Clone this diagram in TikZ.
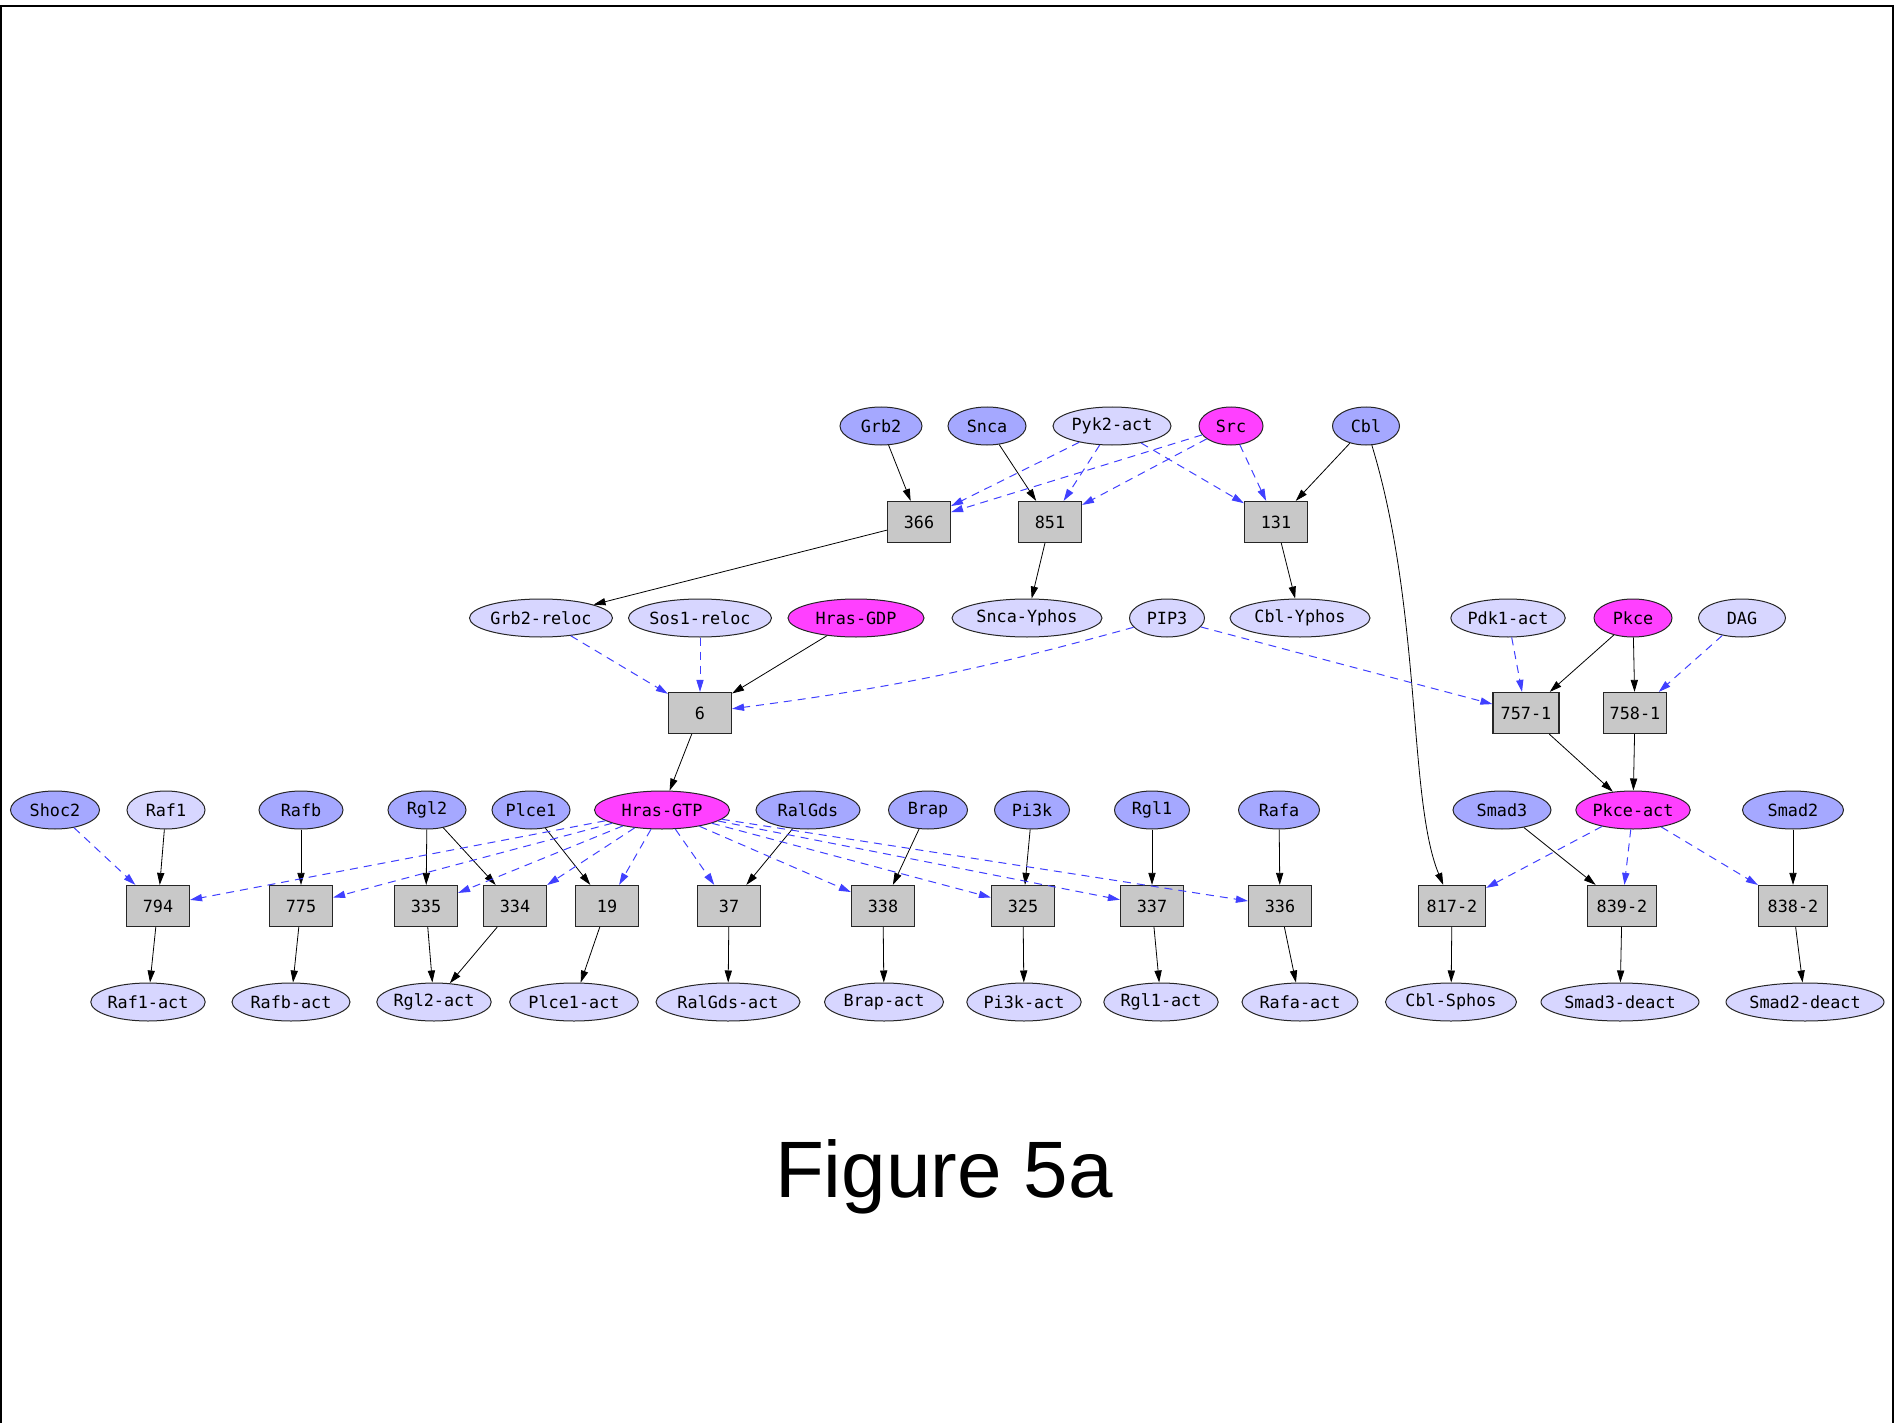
\documentclass[tikz,border=0pt]{standalone}
\usepackage{fontspec}
\setmainfont{Liberation Sans}
\newfontfamily\monof{DejaVu Sans Mono}
\usetikzlibrary{arrows.meta,shapes.geometric}
\definecolor{dkc}{RGB}{165,168,255}
\definecolor{ltc}{RGB}{215,214,255}
\definecolor{mgc}{RGB}{255,64,255}
\definecolor{bxc}{RGB}{200,200,200}
\definecolor{edb}{RGB}{64,64,255}
\begin{document}
\begin{tikzpicture}[x=0.5pt,y=-0.5pt,
 every node/.style={font=\monof\fontsize{8.4}{9}\selectfont, inner sep=0pt},
 ell/.style={ellipse, draw=black!85, line width=0.5pt, minimum height=19pt, minimum width=#1*0.5pt},
 dk/.style={ell=#1, fill=dkc},
 lt/.style={ell=#1, fill=ltc},
 mg/.style={ell=#1, fill=mgc},
 bx/.style={rectangle, draw=black!85, line width=0.6pt, fill=bxc, minimum height=20.5pt, minimum width=#1*0.5pt},
 bx/.default=63,
 ar/.style={-{Triangle[length=6pt,width=3.6pt]}, line width=0.4pt, black},
 da/.style={-{Triangle[length=6pt,width=3.6pt]}, line width=0.5pt, edb, dash pattern=on 4pt off 3pt},
 frame/.style={line width=1pt, black},
 title/.style={font=\rmfamily\fontsize{40}{48}\selectfont}
]
\useasboundingbox (0,0) rectangle (1902,1423);
\draw[frame] (1,1423) -- (1,6) -- (1893,6) -- (1893,1423);

% row 1
\node[dk=82]  (grb2) at (881,426) {Grb2};
\node[dk=78]  (snca) at (987,426) {Snca};
\node[lt=118] (pyk2) at (1112,426) {Pyk2-act};
\node[mg=64]  (src)  at (1231,426) {Src};
\node[dk=67]  (cbl)  at (1366,426) {Cbl};
% row 2
\node[bx] (b366) at (919,522) {366};
\node[bx] (b851) at (1050,522) {851};
\node[bx] (b131) at (1276,522) {131};
% row 3
\node[lt=135] (grb2r) at (541,618) {Grb2-reloc};
\node[lt=126] (sos1r) at (700,618) {Sos1-reloc};
\node[mg=136] (hgdp)  at (856,618) {Hras-GDP};
\node[lt=150] (sncay) at (1027,618) {Snca-Yphos};
\node[lt=75]  (pip3)  at (1167,618) {PIP3};
\node[lt=140] (cbly)  at (1300,618) {Cbl-Yphos};
\node[lt=108] (pdk1)  at (1508,618) {Pdk1-act};
\node[mg=78]  (pkce)  at (1633,618) {Pkce};
\node[lt=87]  (dag)   at (1742,618) {DAG};
% row 4
\node[bx]    (b6)   at (700,713) {6};
\node[bx=66] (b757) at (1526,713) {757-1};
\node[bx]    (b758) at (1635,713) {758-1};
% row 5
\node[dk=89]  (shoc2)   at (55,810) {Shoc2};
\node[lt=78]  (raf1)    at (166,810) {Raf1};
\node[dk=84]  (rafb)    at (301,810) {Rafb};
\node[dk=78]  (rgl2)    at (427,810) {Rgl2};
\node[dk=78]  (plce1)   at (531,810) {Plce1};
\node[mg=135] (hgtp)    at (662,810) {Hras-GTP};
\node[dk=104] (ralgds)  at (808,810) {RalGds};
\node[dk=79]  (brap)    at (928,810) {Brap};
\node[dk=75]  (pi3k)    at (1032,810) {Pi3k};
\node[dk=75]  (rgl1)    at (1152,810) {Rgl1};
\node[dk=81]  (rafa)    at (1279,810) {Rafa};
\node[dk=98]  (smad3)   at (1502,810) {Smad3};
\node[mg=110] (pkceact) at (1633,810) {Pkce-act};
\node[dk=101] (smad2)   at (1793,810) {Smad2};
% row 6
\node[bx] (b794) at (158,906) {794};
\node[bx] (b775) at (301,906) {775};
\node[bx] (b335) at (426,906) {335};
\node[bx] (b334) at (515,906) {334};
\node[bx] (b19)  at (607,906) {19};
\node[bx] (b37)  at (729,906) {37};
\node[bx] (b338) at (883,906) {338};
\node[bx] (b325) at (1023,906) {325};
\node[bx] (b337) at (1152,906) {337};
\node[bx] (b336) at (1280,906) {336};
\node[bx=67] (b817) at (1452,906) {817-2};
\node[bx=69] (b839) at (1622,906) {839-2};
\node[bx=69] (b838) at (1793,906) {838-2};
% row 7
\node[lt=112] (raf1a)   at (148,1002) {Raf1-act};
\node[lt=118] (rafba)   at (291,1002) {Rafb-act};
\node[lt=113] (rgl2a)   at (434,1002) {Rgl2-act};
\node[lt=113] (plce1a)  at (574,1002) {Plce1-act};
\node[lt=144] (ralgdsa) at (728,1002) {RalGds-act};
\node[lt=119] (brapa)   at (884,1002) {Brap-act};
\node[lt=110] (pi3ka)   at (1024,1002) {Pi3k-act};
\node[lt=109] (rgl1a)   at (1161,1002) {Rgl1-act};
\node[lt=116] (rafaa)   at (1300,1002) {Rafa-act};
\node[lt=131] (cblsp)   at (1451,1002) {Cbl-Sphos};
\node[lt=158] (smad3d)  at (1620,1002) {Smad3-deact};
\node[lt=158] (smad2d)  at (1805,1002) {Smad2-deact};

\node[title] (fig) at (944,1177) {Figure 5a};

% black edges
\draw[ar] (grb2) -- (b366);
\draw[ar] (snca) -- (b851);
\draw[ar] (cbl) -- (b131);
\draw[ar] (cbl) .. controls (1422,610) and (1408,800) .. (b817);
\draw[ar] (b366) -- (grb2r);
\draw[ar] (b851) -- (sncay);
\draw[ar] (b131) -- (cbly);
\draw[ar] (hgdp) -- (b6);
\draw[ar] (b6) -- (hgtp);
\draw[ar] (pkce) -- (b757);
\draw[ar] (pkce) -- (b758);
\draw[ar] (b757) -- (pkceact);
\draw[ar] (b758) -- (pkceact);
\draw[ar] (raf1) -- (b794);
\draw[ar] (rafb) -- (b775);
\draw[ar] (rgl2) -- (b335);
\draw[ar] (rgl2) -- (b334);
\draw[ar] (plce1) -- (b19);
\draw[ar] (ralgds) -- (b37);
\draw[ar] (brap) -- (b338);
\draw[ar] (pi3k) -- (b325);
\draw[ar] (rgl1) -- (b337);
\draw[ar] (rafa) -- (b336);
\draw[ar] (smad3) -- (b839);
\draw[ar] (smad2) -- (b838);
\draw[ar] (b794) -- (raf1a);
\draw[ar] (b775) -- (rafba);
\draw[ar] (b335) -- (rgl2a);
\draw[ar] (b334) -- (rgl2a);
\draw[ar] (b19) -- (plce1a);
\draw[ar] (b37) -- (ralgdsa);
\draw[ar] (b338) -- (brapa);
\draw[ar] (b325) -- (pi3ka);
\draw[ar] (b337) -- (rgl1a);
\draw[ar] (b336) -- (rafaa);
\draw[ar] (b817) -- (cblsp);
\draw[ar] (b839) -- (smad3d);
\draw[ar] (b838) -- (smad2d);

% blue dashed edges
\draw[da] (pyk2) -- (b366);
\draw[da] (pyk2) -- (b851);
\draw[da] (pyk2) -- (b131);
\draw[da] (src) -- (b366);
\draw[da] (src) -- (b851);
\draw[da] (src) -- (b131);
\draw[da] (grb2r) -- (b6);
\draw[da] (sos1r) -- (b6);
\draw[da] (pip3) to[bend left=4] (b6);
\draw[da] (pip3) -- (b757);
\draw[da] (pdk1) -- (b757);
\draw[da] (dag) -- (b758);
\draw[da] (shoc2) -- (b794);
\draw[da] (hgtp) -- (b794);
\draw[da] (hgtp) -- (b775);
\draw[da] (hgtp) -- (b335);
\draw[da] (hgtp) -- (b334);
\draw[da] (hgtp) -- (b19);
\draw[da] (hgtp) -- (b37);
\draw[da] (hgtp) -- (b338);
\draw[da] (hgtp) -- (b325);
\draw[da] (hgtp) -- (b337);
\draw[da] (hgtp) -- (b336);
\draw[da] (pkceact) -- (b817);
\draw[da] (pkceact) -- (b839);
\draw[da] (pkceact) -- (b838);
\end{tikzpicture}
\end{document}
